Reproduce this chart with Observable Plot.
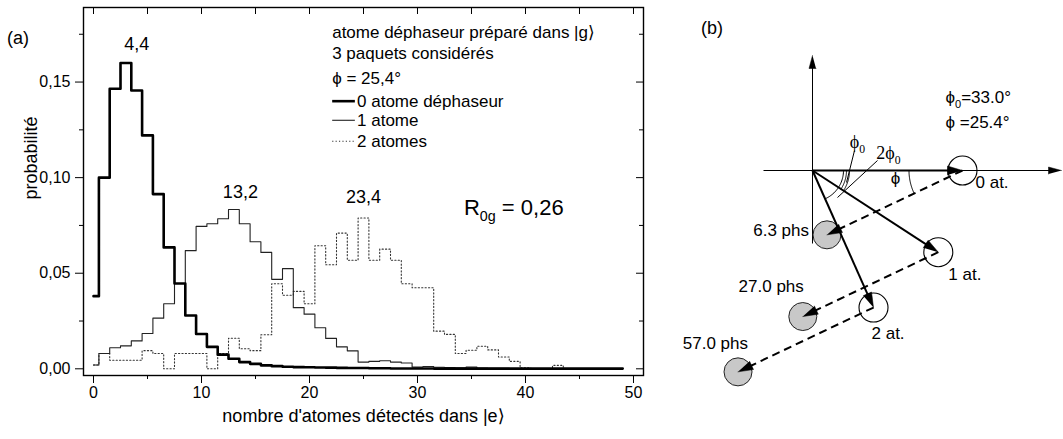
<!DOCTYPE html>
<html><head><meta charset="utf-8">
<script src="https://cdn.jsdelivr.net/npm/d3@7"></script>
<script src="https://cdn.jsdelivr.net/npm/@observablehq/plot@0.6"></script>
<style>
body{margin:0;background:#fff;font-family:"Liberation Sans",Arial,"DejaVu Sans",sans-serif}
#wrap{position:relative;width:1063px;height:439px;overflow:hidden;background:#fff}
#a{position:absolute;left:0;top:0}
#b{position:absolute;left:650px;top:0}
.lbl{position:absolute;font-size:18px;line-height:18px;color:#000}
</style></head><body>
<div id="wrap"><div id="a"></div><div id="b"></div>
<div class="lbl" style="left:7px;top:29px">(a)</div>
<div class="lbl" style="left:701px;top:19px">(b)</div>
</div>
<script>
// ---------- Panel (a) data ----------
const nCounts = [0,1,2,3,4,5,6,7,8,9,10,11,12,13,14,15,16,17,18,19,20,21,22,23,24,25,26,27,28,29,30,31,32,33,34,35,36,37,38,39,40,41,42,43,44,45,46,47,48,49];
const p0 = [0.038,0.100,0.1465,0.160,0.1456,0.1221,0.0914,0.0635,0.0446,0.0279,
  0.0182,0.0115,0.0074,0.0053,0.0035,0.0026,0.0018,0.0014,0.0011,0.0009,
  0.0008,0.0007,0.0006,0.0005,0.0004,0.0004,0.0003,0.0003,0.0002,0.0002,
  0.0002,0.0002,0.0001,0.0001,0.0001,0.0001,0.0001,0.0001,0.0001,0.0001,
  0.0001,0.0001,0.0001,0.0001,0.0001,0.0001,0.0001,0.0001,0.0001,0.0001];
const p1 = [0.002,0.008,0.011,0.012,0.0146,0.0185,0.0265,0.034,0.0446,0.0618,
  0.0745,0.0759,0.0785,0.0833,0.0759,0.0665,0.0609,0.0468,0.0524,0.032,
  0.0286,0.0215,0.0159,0.0115,0.0094,0.0035,0.0039,0.0042,0.0035,0.003,
  0.0009,0.0012,0.0008,0.0007,0.0005,0.0009,0.0004,0.0003,0.0003,0.0002,
  0.0002,0.0002,0.0001,0.0001,0.0001,0.0001,0.0001,0.0001,0.0001,0.0001];
const p2 = [0.002,0.008,0.0045,0.0045,0.0045,0.0095,0.008,0,0.008,0.008,
  0.008,0,0.008,0.016,0.0105,0.0095,0.0178,0.0445,0.0385,0.0405,
  0.034,0.0644,0.0544,0.071,0.0568,0.0789,0.0568,0.0626,0.0568,0.0445,
  0.0424,0.0424,0.0197,0.018,0.008,0.0097,0.0118,0.0099,0.0062,0.0039,
  0.0005,0,0,0.0018,0,0,0,0,0,0];
const seriesNames = ["0 atome déphaseur", "1 atome", "2 atomes"];
const yMajorTicks = [0, 0.05, 0.10, 0.15];
const yMinorTicks = [0.025, 0.075, 0.125, 0.175];
const xMajorTicks = [0, 10, 20, 30, 40, 50];
const xMinorTicks = [5, 15, 25, 35, 45];
const meanLabels = ["4,4", "13,2", "23,4"];
const meanLabelX = [4.0, 13.6, 25.0];
const meanLabelY = [0.170, 0.0926, 0.090];
const legendTitle = ["atome déphaseur préparé dans |g⟩", "3 paquets considérés", "ϕ = 25,4°"];
const legendTitleY = [0.176, 0.165, 0.152];
const legendEntryY = [0.140, 0.130, 0.119];
const legendX = 22.1, legendSwatchEnd = 24.2, legendTextX = 24.4;
const ratioLabel = "R_{0g} = 0,26";
const ratioX = 34.3, ratioY = 0.084;

// ---------- Panel (b) data ----------
const phi0Deg = 33.0, phiDeg = 25.4;
const atomCounts = [0, 1, 2];
const atomLabels = ["0 at.", "1 at.", "2 at."];
const photonLabels = ["6.3 phs", "27.0 phs", "57.0 phs"];
const paramLabels = ["ϕ_{0}=33.0°", "ϕ =25.4°"];

const SANS = '"Liberation Sans", Arial, "DejaVu Sans", sans-serif';
const SERIF = '"Liberation Serif", "Times New Roman", "DejaVu Serif", serif';
const fmtComma = d => d3.format(".2f")(d).replace(".", ",");

// ---------- Chart (a) ----------
const WA = 660, HA = 439, mL = 83, mR = 17, mT = 7, mB = 64;
const frameW = WA - mL - mR, frameH = HA - mT - mB;
const chartA = Plot.plot({
  width: WA, height: HA,
  marginLeft: mL, marginRight: mR, marginTop: mT, marginBottom: mB,
  x: {domain: [-0.926, 50.926]},
  y: {domain: [-0.0035, 0.189]},
  style: {fontFamily: SANS, fontSize: "16px", color: "#000", background: "transparent"},
  marks: [
    Plot.axisY({ticks: yMajorTicks, tickFormat: fmtComma, tickSize: 8, tickPadding: 5, label: null, fontSize: 16}),
    Plot.axisY({ticks: yMinorTicks, tickFormat: () => "", tickSize: 4, label: null}),
    Plot.axisX({ticks: xMajorTicks, tickFormat: d => String(d), tickSize: 8, tickPadding: 3, label: null, fontSize: 16}),
    Plot.axisX({ticks: xMinorTicks, tickFormat: () => "", tickSize: 4, label: null}),
    Plot.tickX(xMajorTicks.concat(xMinorTicks), {x: d => d, insetBottom: frameH - 7, stroke: "#000"}),
    Plot.tickY(yMajorTicks, {y: d => d, insetLeft: frameW - 7, stroke: "#000"}),
    Plot.tickY(yMinorTicks, {y: d => d, insetLeft: frameW - 4, stroke: "#000"}),
    Plot.line(p2, {x: nCounts, y: p2, curve: "step", stroke: "#333", strokeWidth: 1.1, strokeDasharray: "1.2,2.2"}),
    Plot.line(p1, {x: nCounts, y: p1, curve: "step", stroke: "#222", strokeWidth: 1.1}),
    Plot.line(p0, {x: nCounts, y: p0, curve: "step", stroke: "#000", strokeWidth: 2.6}),
    Plot.frame({stroke: "#000", strokeWidth: 1.4}),
    Plot.text(meanLabels, {x: meanLabelX, y: meanLabelY, text: d => d, fontSize: 18}),
    Plot.text([ratioLabel], {x: [ratioX], y: [ratioY], text: d => d, textAnchor: "start", fontSize: 22}),
    Plot.text(legendTitle, {x: legendTitle.map(() => legendX), y: legendTitleY, text: d => d, textAnchor: "start", fontSize: 17}),
    Plot.link([0], {x1: [legendX], x2: [legendSwatchEnd], y1: [legendEntryY[0]], y2: [legendEntryY[0]], stroke: "#000", strokeWidth: 2.6}),
    Plot.link([1], {x1: [legendX], x2: [legendSwatchEnd], y1: [legendEntryY[1]], y2: [legendEntryY[1]], stroke: "#222", strokeWidth: 1.1}),
    Plot.link([2], {x1: [legendX], x2: [legendSwatchEnd], y1: [legendEntryY[2]], y2: [legendEntryY[2]], stroke: "#333", strokeWidth: 1.1, strokeDasharray: "1.2,2.2"}),
    Plot.text(seriesNames, {x: seriesNames.map(() => legendTextX), y: legendEntryY, text: d => d, textAnchor: "start", fontSize: 17}),
    Plot.text(["probabilité"], {frameAnchor: "left", dx: -52, dy: 8, rotate: -90, fontSize: 18}),
    Plot.text(["nombre d'atomes détectés dans |e⟩"], {frameAnchor: "bottom", dy: 46, fontSize: 18})
  ]
});
document.getElementById("a").appendChild(chartA);

// ---------- Chart (b) geometry from the two angles ----------
const rad = d => d * Math.PI / 180;
const A = atomCounts.map(k => ({k, x: Math.cos(rad(k * phi0Deg)), y: -Math.sin(rad(k * phi0Deg))}));
const B = A.map(a => ({k: a.k, x: a.x - Math.cos(rad(phiDeg)), y: a.y - Math.sin(rad(phiDeg))}));

function arrowParts(x1, y1, x2, y2, len, hw, id) {
  const dx = x2 - x1, dy = y2 - y1, d = Math.hypot(dx, dy), ux = dx / d, uy = dy / d;
  const bx = x2 - ux * len, by = y2 - uy * len;
  return {
    shaft: {x1, y1, x2: x2 - ux * len * 0.6, y2: y2 - uy * len * 0.6},
    head: [{id, x: x2, y: y2}, {id, x: bx - uy * hw, y: by + ux * hw}, {id, x: bx + uy * hw, y: by - ux * hw}]
  };
}
function arcPts(cx, cy, r, a0, a1, id) {
  const n = 30;
  return d3.range(n + 1).map(i => {
    const a = rad(a0 + (a1 - a0) * i / n);
    return {id, x: cx + r * Math.cos(a), y: cy + r * Math.sin(a)};
  });
}
const U = 1 / 150; // one pixel in data units
const axisArrows = [arrowParts(-49 * U, 0, 249 * U, 0, 13 * U, 3.5 * U, "h"), arrowParts(0, -73 * U, 0, 115 * U, 13 * U, 3.5 * U, "v")];
const vecArrows = A.map(a => arrowParts(0, 0, a.x, a.y, 15 * U, 4.5 * U, "s" + a.k));
const dashArrows = A.map((a, i) => arrowParts(a.x, a.y, B[i].x, B[i].y, 15 * U, 4.5 * U, "d" + a.k));
const arcs = [
  ...arcPts(0, 0, 31 * U, 0, -2 * phi0Deg, "a2"),
  ...arcPts(0, 0, 34 * U, 0, -phi0Deg, "a1"),
  ...arcPts(0, 0, 37 * U, 0, -phi0Deg, "a1b"),
  ...arcPts(A[0].x, A[0].y, 53.5 * U, 180, 180 + phiDeg, "ap")
];
const leaders = [
  {x1: 42 * U, y1: 20 * U, x2: 34 * U, y2: -12 * U},
  {x1: 65 * U, y1: 10 * U, x2: 25 * U, y2: -27 * U}
];
const atomDx = [13, 10, -2], atomDy = [12, 22, 26];
const photonDx = [-18, 1, 10], photonDy = [-4, -30, -28];

const chartB = Plot.plot({
  width: 413, height: 439, margin: 0,
  x: {domain: [-162 * U, 251 * U], axis: null},
  y: {domain: [-269 * U, 170 * U], axis: null},
  style: {fontFamily: SANS, fontSize: "17px", color: "#000", background: "transparent"},
  marks: [
    Plot.link(axisArrows.map(a => a.shaft), {x1: "x1", y1: "y1", x2: "x2", y2: "y2", stroke: "#000", strokeWidth: 1}),
    Plot.line(axisArrows.flatMap(a => a.head), {x: "x", y: "y", z: "id", fill: "#000", stroke: "#000", strokeWidth: 0.5}),
    Plot.line(arcs, {x: "x", y: "y", z: "id", stroke: "#000", strokeWidth: 1}),
    Plot.link(leaders, {x1: "x1", y1: "y1", x2: "x2", y2: "y2", stroke: "#000", strokeWidth: 1}),
    Plot.dot(B, {x: "x", y: "y", r: 14, fill: "#c8c8c8", stroke: "#222", strokeWidth: 1}),
    Plot.dot(A, {x: "x", y: "y", r: 14.5, fill: "none", stroke: "#000", strokeWidth: 1.1}),
    Plot.link(dashArrows.map(a => a.shaft), {x1: "x1", y1: "y1", x2: "x2", y2: "y2", stroke: "#000", strokeWidth: 2, strokeDasharray: "8,5"}),
    Plot.link(vecArrows.map(a => a.shaft), {x1: "x1", y1: "y1", x2: "x2", y2: "y2", stroke: "#000", strokeWidth: 2}),
    Plot.line(vecArrows.concat(dashArrows).flatMap(a => a.head), {x: "x", y: "y", z: "id", fill: "#000", stroke: "#000", strokeWidth: 0.5}),
    Plot.text(atomLabels, {x: A.map(a => a.x), y: A.map(a => a.y), text: d => d, textAnchor: "start"}),
    Plot.text(photonLabels, {x: B.map(b => b.x), y: B.map(b => b.y), text: d => d, textAnchor: "end"}),
    Plot.text(paramLabels, {x: [133 * U, 133 * U], y: [73 * U, 48 * U], text: d => d, textAnchor: "start", fontSize: 17}),
    Plot.text(["ϕ"], {x: [83 * U], y: [-8 * U], text: d => d, fontSize: 17}),
    Plot.text(["ϕ_{0}", "2ϕ_{0}"], {x: [45 * U, 76 * U], y: [28 * U, 17 * U], text: d => d, fontFamily: SERIF, fontSize: 18})
  ]
});
document.getElementById("b").appendChild(chartB);

// per-label pixel offsets for atom and photon labels
function offsetTexts(svg, labels, dxs, dys) {
  svg.querySelectorAll("text").forEach(t => {
    const i = labels.indexOf(t.textContent);
    if (i >= 0) {
      const tr = t.getAttribute("transform") || "";
      t.setAttribute("transform", `translate(${dxs[i]},${dys[i]}) ` + tr);
    }
  });
}
offsetTexts(chartB, photonLabels, photonDx, photonDy);
offsetTexts(chartB, atomLabels, atomDx, atomDy);

// subscripts written as _{...}
function subscripts(svg) {
  svg.querySelectorAll("text").forEach(t => {
    const s = t.textContent;
    if (!s.includes("_{")) return;
    const fs = parseFloat(getComputedStyle(t).fontSize) || 16;
    const shift = 0.27 * fs;
    while (t.firstChild) t.removeChild(t.firstChild);
    let lowered = false;
    for (const part of s.split(/(_\{[^}]*\})/)) {
      if (!part) continue;
      const ts = document.createElementNS("http://www.w3.org/2000/svg", "tspan");
      if (part.startsWith("_{")) {
        ts.textContent = part.slice(2, -1);
        ts.setAttribute("font-size", (fs * 0.65) + "px");
        ts.setAttribute("dy", shift);
        lowered = true;
      } else {
        ts.textContent = part;
        if (lowered) { ts.setAttribute("dy", -shift); lowered = false; }
      }
      t.appendChild(ts);
    }
  });
}
subscripts(chartA);
subscripts(chartB);
</script>
</body></html>
